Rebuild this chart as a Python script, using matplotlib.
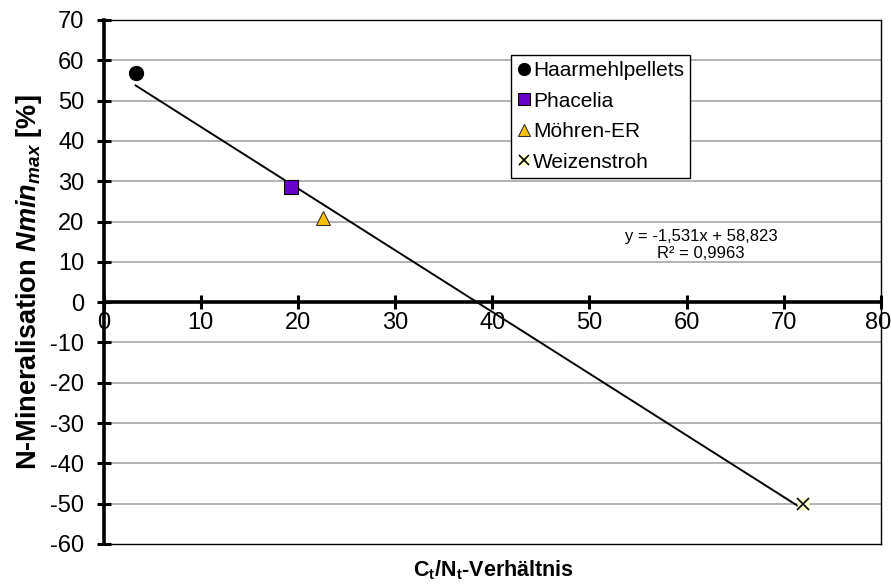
import matplotlib
matplotlib.use("Agg")
import matplotlib.pyplot as plt
import numpy as np

plt.rcParams['font.family'] = ['Liberation Sans', 'DejaVu Sans']
plt.rcParams['mathtext.fontset'] = 'custom'
plt.rcParams['mathtext.rm'] = 'Liberation Sans'
plt.rcParams['mathtext.bf'] = 'Liberation Sans:bold'
plt.rcParams['mathtext.it'] = 'Liberation Sans:italic'
plt.rcParams['mathtext.bfit'] = 'Liberation Sans:italic:bold'

# Data
names = ["Haarmehlpellets", "Phacelia", "Möhren-ER", "Weizenstroh"]
cn_ratio = [3.3, 19.3, 22.6, 72.0]
nmin_max = [56.8, 28.5, 20.8, -50.0]
slope = -1.531
intercept = 58.823
r2 = 0.9963
x_ticks = [0, 10, 20, 30, 40, 50, 60, 70, 80]
y_ticks = [-60, -50, -40, -30, -20, -10, 0, 10, 20, 30, 40, 50, 60, 70]

W, H = 891, 585
fig = plt.figure(figsize=(W / 100, H / 100), dpi=100)
ax = fig.add_axes([103.5 / W, 1 - 544 / H, (881 - 103.5) / W, (544 - 20) / H])
ax.set_xlim(0, 80)
ax.set_ylim(-60, 70)

# grid
for yv in y_ticks:
    if yv not in (0, -60, 70):
        ax.axhline(yv, color='#a6a6a6', lw=1.2, zorder=0)

# spines
for s in ['top', 'right', 'bottom']:
    ax.spines[s].set_linewidth(1.0)
    ax.spines[s].set_color('black')
ax.spines['left'].set_linewidth(2.6)
ax.axhline(0, color='black', lw=2.6, zorder=2)

ax.set_yticks(y_ticks)
ax.set_yticklabels([str(v) for v in y_ticks])
ax.tick_params(axis='y', direction='inout', length=9.5, width=2.2, labelsize=17, pad=9)

ax.set_xticks([])
# x ticks drawn on y=0 line
for xv in x_ticks:
    ax.plot([xv], [0], marker='|', markersize=9.5, markeredgewidth=2.2, color='black',
            zorder=3, clip_on=False)
    ax.annotate(str(xv), xy=(xv, 0), xytext=(-2.2 if xv == 80 else 0, -7), textcoords='offset points',
                ha='center', va='top', fontsize=17, annotation_clip=False)

# regression line
xl = np.array([min(cn_ratio), max(cn_ratio)])
ax.plot(xl, slope * xl + intercept, color='black', lw=1.4, zorder=3)

# points
h1, = ax.plot(cn_ratio[0], nmin_max[0], 'o', ms=10, color='black', zorder=4, linestyle='none')
h2, = ax.plot(cn_ratio[1], nmin_max[1], 's', ms=10, mfc='#6600CC', mec='black', mew=0.8, zorder=4, linestyle='none')
h3, = ax.plot(cn_ratio[2], nmin_max[2], '^', ms=10, mfc='#FFC000', mec='#333333', mew=0.8, zorder=4, linestyle='none')
h4a, = ax.plot(cn_ratio[3], nmin_max[3], 's', ms=9, mfc='#FFFFCC', mec='none', zorder=4, linestyle='none')
h4b, = ax.plot(cn_ratio[3], nmin_max[3], 'x', ms=8, color='black', mew=1.2, zorder=5, linestyle='none')

leg = fig.legend([h1, h2, h3, (h4a, h4b)], names,
                 loc='upper left', bbox_to_anchor=(511 / W, 1 - 55 / H),
                 fontsize=15, frameon=True, fancybox=False, framealpha=1,
                 edgecolor='black', handlelength=0.6, handletextpad=0.15,
                 borderpad=0.3, labelspacing=0.55, markerscale=0.85,
                 borderaxespad=0)
leg.get_frame().set_linewidth(1.0)

# equation
ax.text(701 / W, 1 - 236 / H, "y = -1,531x + 58,823", transform=fig.transFigure,
        ha='center', va='center', fontsize=12)
ax.text(701 / W, 1 - 254 / H, "R² = 0,9963", transform=fig.transFigure,
        ha='center', va='center', fontsize=12)

# axis labels
fig.text(493 / W, 1 - 570 / H, r'$\mathbf{C}_{\mathbf{t}}\mathbf{/N}_{\mathbf{t}}$-Verhältnis',
         ha='center', va='center', fontsize=15.5, fontweight='bold')
fig.text(29 / W, 1 - 282 / H, r'N-Mineralisation $\mathbfit{Nmin}_{\mathbfit{max}}$ [%]',
         ha='center', va='center', fontsize=19.5, fontweight='bold', rotation=90)

fig.savefig('out.png', dpi=100)
